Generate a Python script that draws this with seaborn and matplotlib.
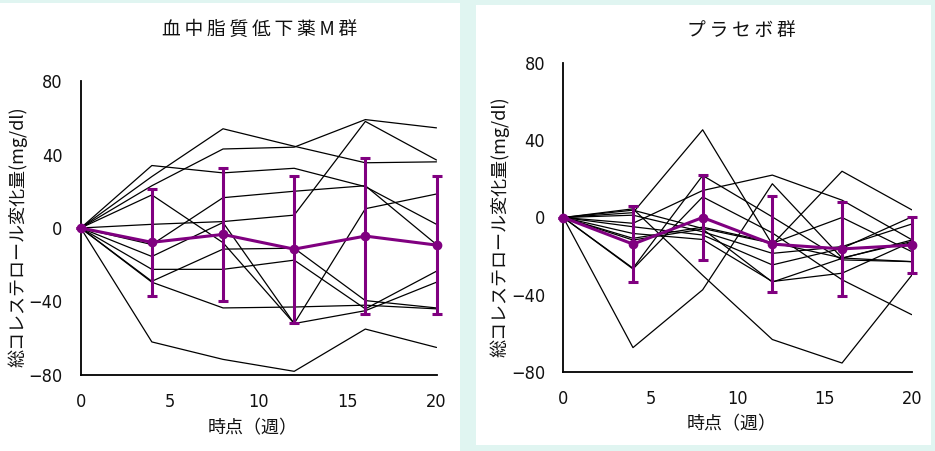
import numpy as np
import pandas as pd
import matplotlib
matplotlib.use("Agg")
import matplotlib.pyplot as plt
from matplotlib.patches import Rectangle
import seaborn as sns

sns.set_theme(style="white")
plt.rcParams['font.family'] = ['Noto Sans CJK JP', 'DejaVu Sans']
plt.rcParams['axes.unicode_minus'] = True

weeks = [0, 4, 8, 12, 16, 20]

# 血中脂質低下薬M群 individual subjects
left_subjects = {
    "A": [0, 34, 30, 32.5, 22.5, 2],
    "B": [0, 28, 54, 44.5, 35.5, 36],
    "C": [0, 23, 43, 44, 59, 54.5],
    "D": [0, 18, -8, -52, -45, -29.5],
    "E": [0, -9, 16.5, 20, 23, -9],
    "F": [0, 2, 3.5, 7, 58, 37],
    "G": [0, -15.5, 3, -52, 10.5, 18.5],
    "H": [0, -22.5, -22.5, -17.5, -44, -23.5],
    "I": [0, -29, -11.5, -11, -39.5, -43.5],
    "J": [0, -29.5, -43.5, -43, -42, -44],
    "K": [0, -62, -71.5, -78, -55, -65],
}
left_mean = [0, -7.8, -3.5, -11.5, -4.4, -9.3]
left_sd = [0, 29, 36, 40, 42.5, 37.6]

# プラセボ群 individual subjects
right_subjects = {
    "R1": [0, 2.5, 45.5, -14, 24, 4],
    "R2": [0, -67.5, -37.5, 17.5, -21, -12.5],
    "R3": [0, -3, 14, 22, 9, -11.5],
    "R4": [0, 4.5, -30, -63.3, -75.5, -30],
    "R5": [0, -26.3, 21.8, 0.3, -22, -22.9],
    "R6": [0, -26.7, 10.7, -8, -32.3, -50.4],
    "R7": [0, 3.8, -5.7, -13.4, 0, -17.7],
    "R8": [0, 1.2, -7.4, -18.6, -15.1, -3.4],
    "R9": [0, -4.8, -9.1, -24.6, -16, 0.3],
    "R10": [0, -8.3, -11.4, -33.2, -28.9, -12.6],
    "R11": [0, -11.7, -6, -33.5, -21.2, -11.7],
    "R12": [0, -10.8, -5, -13, -21, -22.9],
}
right_mean = [0, -13.8, 0, -13.8, -16.3, -14.3]
right_sd = [0, 19.7, 22, 24.9, 24.3, 14.5]

titles = ["血中脂質低下薬M群", "プラセボ群"]
xlabel = "時点（週）"
ylabel = "総コレステロール変化量(mg/dl)"
yticks = [-80, -40, 0, 40, 80]
xticks = [0, 5, 10, 15, 20]

W, H = 935, 451
fig = plt.figure(figsize=(W / 100, H / 100), dpi=100)
fig.patch.set_facecolor("#e0f5f1")

def px_rect(x0, y0, x1, y1):
    return (x0 / W, 1 - y1 / H, (x1 - x0) / W, (y1 - y0) / H)

# background axes holding the white panels
bg = fig.add_axes([0, 0, 1, 1], zorder=-10)
bg.set_xlim(0, W)
bg.set_ylim(H, 0)
bg.axis("off")
for (x0, y0, x1, y1) in [(0, 3, 460, 451), (476, 5, 931, 445)]:
    bg.add_patch(Rectangle((x0, y0), x1 - x0, y1 - y0, facecolor="white",
                           edgecolor="none"))

PURPLE = "#800080"
TEXT = "#111111"

panels = [
    dict(ax_px=(80.7, 81, 436.5, 375), subj=left_subjects, mean=left_mean, sd=left_sd,
         title=titles[0], title_xy=(260, 29), xl_xy=(253, 428), yl_xy=(18, 237)),
    dict(ax_px=(563.3, 63.3, 911.7, 371.7), subj=right_subjects, mean=right_mean, sd=right_sd,
         title=titles[1], title_xy=(741, 30), xl_xy=(732, 424), yl_xy=(500, 227)),
]

for p in panels:
    x0, y0, x1, y1 = p["ax_px"]
    ax = fig.add_axes(px_rect(x0, y0, x1, y1), zorder=1)
    ax.set_facecolor("none")
    rows = []
    for name, vals in p["subj"].items():
        for wk, v in zip(weeks, vals):
            rows.append((name, wk, v))
    df = pd.DataFrame(rows, columns=["subject", "week", "value"])
    sns.lineplot(data=df, x="week", y="value", units="subject", estimator=None,
                 color="black", linewidth=0.9, ax=ax, legend=False)
    ax.errorbar(weeks, p["mean"], yerr=p["sd"], color=PURPLE, linewidth=2.2,
                elinewidth=2.2, capsize=3.5, capthick=2.2, marker="o",
                markersize=6, zorder=5, clip_on=False)
    ax.set_xlim(0, 20)
    ax.set_ylim(-80, 80)
    ax.set_xticks(xticks)
    ax.set_yticks(yticks)
    ax.set_xlabel("")
    ax.set_ylabel("")
    for s in ["top", "right"]:
        ax.spines[s].set_visible(False)
    for s in ["left", "bottom"]:
        ax.spines[s].set_color("black")
        ax.spines[s].set_linewidth(1.3)
    ax.tick_params(axis="both", direction="in", length=4, width=1.2, color="black",
                   labelsize=13, labelcolor=TEXT)
    ax.tick_params(axis="y", pad=13)
    ax.tick_params(axis="x", pad=13)
    for lab in ax.get_xticklabels() + ax.get_yticklabels():
        lab.set_fontfamily(['DejaVu Sans'])
        lab.set_fontstretch('condensed')
    fig.text(p["title_xy"][0] / W, 1 - p["title_xy"][1] / H,
             "\u2009".join(p["title"]), ha="center", va="center", fontsize=13.5,
             color=TEXT)
    fig.text(p["xl_xy"][0] / W, 1 - p["xl_xy"][1] / H, xlabel,
             ha="center", va="center", fontsize=13, color=TEXT)
    fig.text(p["yl_xy"][0] / W, 1 - p["yl_xy"][1] / H, ylabel, rotation=90,
             ha="center", va="center", fontsize=13, color=TEXT)

fig.savefig("out.png", dpi=100, facecolor=fig.get_facecolor())
